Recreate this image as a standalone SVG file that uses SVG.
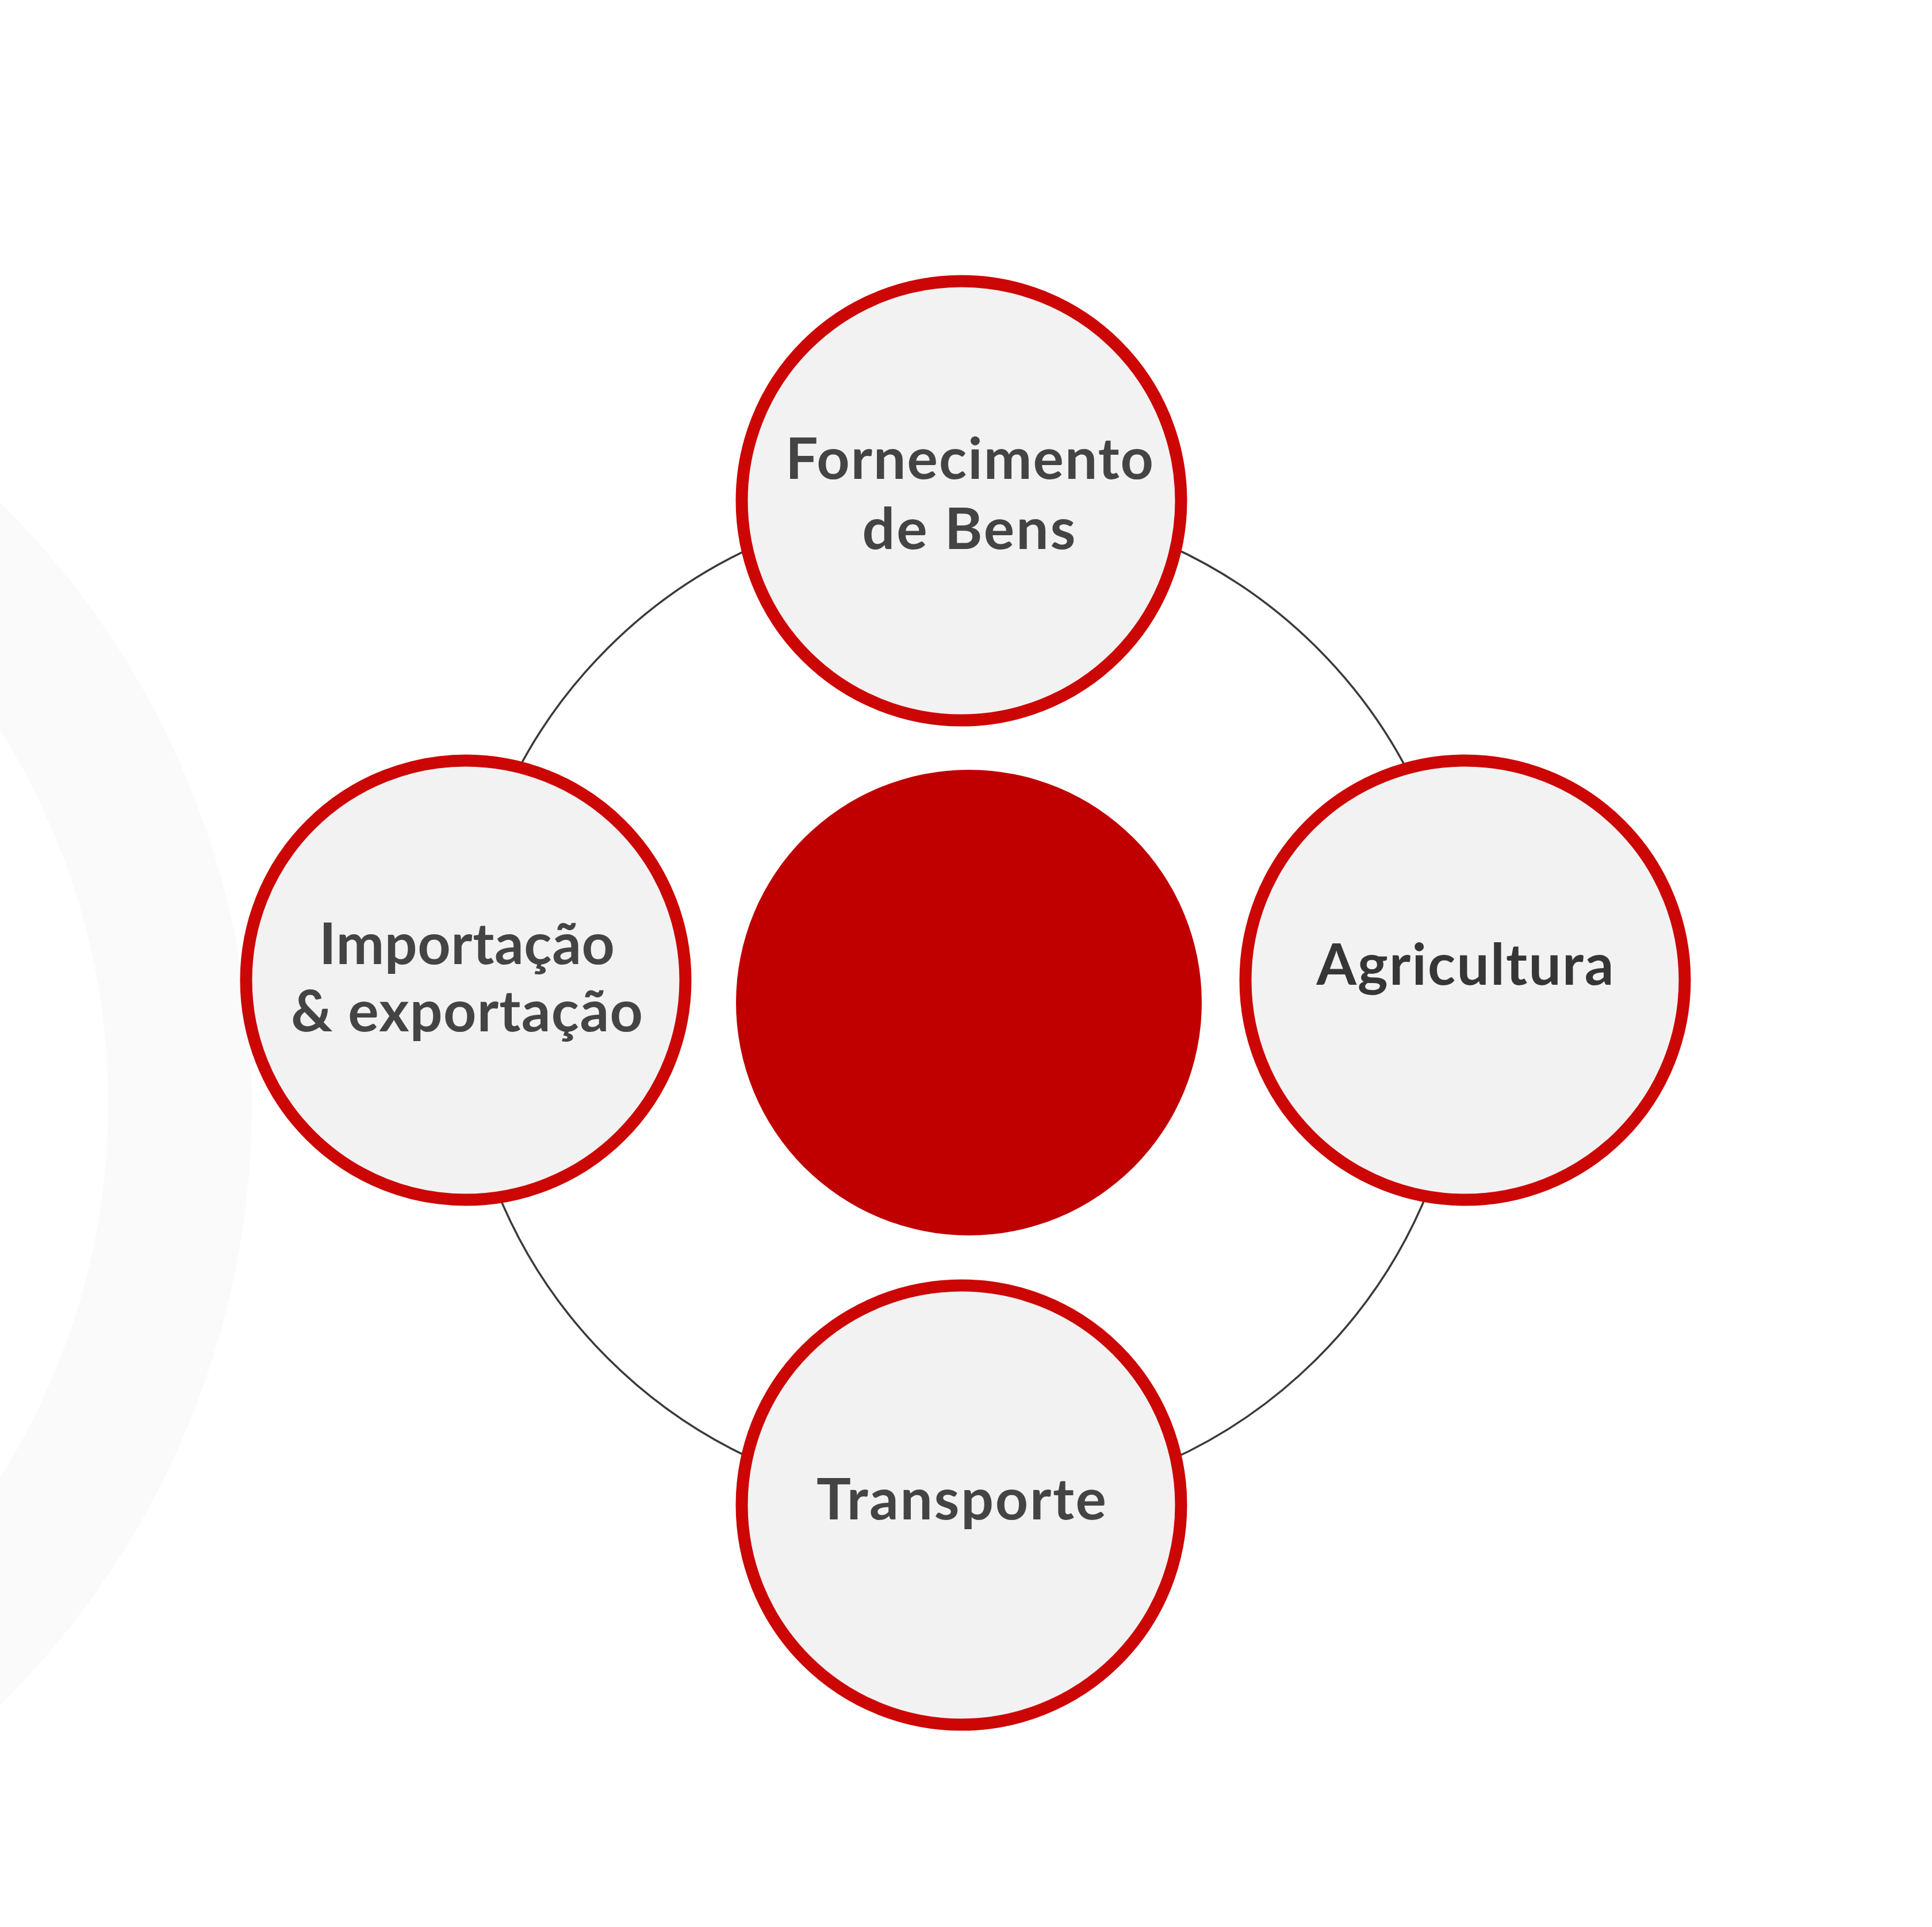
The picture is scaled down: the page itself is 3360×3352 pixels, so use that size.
<svg xmlns="http://www.w3.org/2000/svg" width="3360" height="3352" viewBox="0 0 3360 3352">
<style>
.node circle{fill:#f2f2f2;stroke:#cc0605;stroke-width:21}
.lbl{font-family:Lato,"Liberation Sans",sans-serif;font-weight:700;font-size:100px;fill:#444444;text-anchor:middle}
</style>
<rect width="3360" height="3352" fill="#ffffff"/>
<g id="background">
<circle cx="-1030" cy="1920" r="1343" fill="none" stroke="#fafafa" stroke-width="250"/>
</g>
<g id="connectors">
<circle cx="1674" cy="1745" r="873" fill="none" stroke="#3a3a3a" stroke-width="3.5"/>
</g>
<g id="center-node">
<circle cx="1685" cy="1744" r="405" fill="#c00000"/>
</g>
<g id="node-fornecimento" class="node">
<circle cx="1672" cy="871" r="382"/>
<text class="lbl" x="1686" y="833" textLength="640" lengthAdjust="spacing">Fornecimento</text>
<text class="lbl" x="1685" y="955" textLength="371" lengthAdjust="spacing">de Bens</text>
</g>
<g id="node-importacao" class="node">
<circle cx="810" cy="1705" r="382"/>
<text class="lbl" x="812" y="1677" textLength="514" lengthAdjust="spacing">Importação</text>
<text class="lbl" x="812" y="1794" textLength="612" lengthAdjust="spacing">&amp; exportação</text>
</g>
<g id="node-agricultura" class="node">
<circle cx="2548" cy="1705" r="382"/>
<text class="lbl" x="2548" y="1713" textLength="517" lengthAdjust="spacing" style="fill:#363636">Agricultura</text>
</g>
<g id="node-transporte" class="node">
<circle cx="1672" cy="2618" r="382"/>
<text class="lbl" x="1672" y="2643" textLength="504" lengthAdjust="spacing">Transporte</text>
</g>
</svg>
